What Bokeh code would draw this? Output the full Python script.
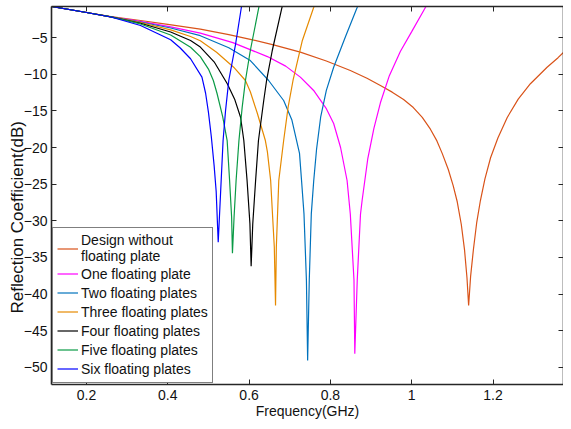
from bokeh.plotting import figure
from bokeh.models import Range1d, FixedTicker, LinearAxis, Legend, LegendItem, Title
from bokeh.embed import file_html
from bokeh.resources import INLINE

FONT = "Liberation Sans"
AXC = "#262626"

# ---- data (frequency in GHz, reflection coefficient in dB) ----
x_ticks = [0.2, 0.4, 0.6, 0.8, 1.0, 1.2]
x_tick_labels = ["0.2", "0.4", "0.6", "0.8", "1", "1.2"]
y_ticks = [-5, -10, -15, -20, -25, -30, -35, -40, -45, -50]

design_f = [0.114, 0.200, 0.260, 0.333, 0.400, 0.480, 0.550, 0.603, 0.660, 0.726, 0.790, 0.849,
            0.890, 0.923, 0.952, 0.980, 1.004, 1.026, 1.046, 1.062, 1.075, 1.090, 1.102, 1.112,
            1.122, 1.130, 1.136, 1.140, 1.145, 1.152, 1.160, 1.169, 1.180, 1.194, 1.212, 1.235,
            1.262, 1.292, 1.333, 1.360, 1.391]
design_db = [-0.77, -1.59, -2.15, -2.68, -3.20, -3.85, -4.60, -5.25, -6.00, -7.00, -8.20, -9.50,
             -10.55, -11.55, -12.45, -13.45, -14.55, -15.90, -17.50, -19.10, -20.80, -23.00, -25.20, -27.40,
             -30.50, -34.00, -37.80, -41.55, -37.50, -33.80, -30.20, -27.23, -24.30, -21.40, -18.70, -15.90,
             -13.40, -11.30, -9.05, -7.75, -6.09]

one_f = [0.114, 0.200, 0.260, 0.333, 0.407, 0.480, 0.560, 0.645, 0.690, 0.726, 0.760, 0.790,
         0.808, 0.825, 0.841, 0.849, 0.858, 0.860, 0.866, 0.874, 0.878, 0.892, 0.907, 0.923,
         0.945, 0.972, 1.000, 1.034, 1.040]
one_db = [-0.77, -1.59, -2.18, -2.80, -3.55, -4.40, -5.70, -7.60, -8.90, -10.40, -12.30, -14.70,
          -16.73, -20.00, -24.50, -29.10, -38.10, -48.13, -38.10, -29.10, -27.23, -21.50, -17.40, -13.90,
          -10.20, -6.90, -4.20, -0.87, -0.10]

two_f = [0.114, 0.200, 0.260, 0.333, 0.407, 0.480, 0.550, 0.603, 0.648, 0.685, 0.705, 0.724,
         0.729, 0.735, 0.741, 0.744, 0.748, 0.753, 0.759, 0.766, 0.776, 0.790, 0.808, 0.837,
         0.866, 0.870]
two_db = [-0.77, -1.59, -2.18, -2.88, -3.70, -4.75, -6.40, -8.14, -10.86, -13.59, -16.20, -20.80,
          -24.50, -29.05, -38.10, -49.05, -38.10, -29.05, -24.50, -20.20, -15.87, -12.20, -9.05, -4.90,
          -0.87, -0.20]

three_f = [0.114, 0.200, 0.260, 0.333, 0.407, 0.456, 0.480, 0.520, 0.562, 0.591, 0.603, 0.620,
           0.640, 0.645, 0.653, 0.662, 0.665, 0.667, 0.673, 0.685, 0.696, 0.708, 0.731, 0.759,
           0.763]
three_db = [-0.77, -1.59, -2.18, -2.95, -3.95, -4.86, -5.45, -7.00, -9.05, -10.86, -12.40, -15.30,
            -19.05, -20.60, -24.50, -33.60, -41.55, -33.60, -24.50, -19.05, -14.50, -10.86, -5.40, -0.87,
            -0.20]

four_f = [0.114, 0.200, 0.260, 0.333, 0.407, 0.456, 0.480, 0.515, 0.546, 0.565, 0.579, 0.587,
          0.595, 0.602, 0.605, 0.609, 0.616, 0.623, 0.636, 0.643, 0.657, 0.681, 0.685]
four_db = [-0.77, -1.59, -2.18, -3.05, -4.25, -5.41, -6.30, -8.40, -11.27, -13.50, -15.87, -19.05,
           -24.50, -30.40, -36.19, -30.40, -24.50, -19.05, -13.59, -10.86, -6.77, -0.87, -0.20]

five_f = [0.114, 0.200, 0.260, 0.333, 0.407, 0.456, 0.480, 0.500, 0.512, 0.521, 0.535, 0.546,
          0.552, 0.557, 0.559, 0.563, 0.568, 0.575, 0.583, 0.591, 0.603, 0.624, 0.627]
five_db = [-0.77, -1.59, -2.18, -3.15, -4.65, -6.32, -7.60, -9.30, -10.86, -12.60, -15.80, -19.05,
           -24.50, -29.50, -34.41, -29.50, -24.50, -19.05, -14.50, -10.86, -6.77, -0.87, -0.20]

six_f = [0.114, 0.200, 0.260, 0.333, 0.407, 0.430, 0.456, 0.484, 0.493, 0.500, 0.507, 0.514,
         0.519, 0.524, 0.530, 0.536, 0.542, 0.550, 0.567, 0.581, 0.584]
six_db = [-0.77, -1.59, -2.20, -3.36, -5.30, -6.40, -7.90, -10.40, -12.60, -15.20, -18.50, -22.50,
          -26.00, -32.91, -26.00, -19.05, -15.00, -10.86, -5.82, -0.87, -0.20]

series_names = ["Design without\nfloating plate", "One floating plate", "Two floating plates",
                "Three floating plates", "Four floating plates", "Five floating plates",
                "Six floating plates"]
series_f = [design_f, one_f, two_f, three_f, four_f, five_f, six_f]
series_db = [design_db, one_db, two_db, three_db, four_db, five_db, six_db]
series_colors = ["#D95319", "#FF00FF", "#0072BD", "#E68A00", "#000000", "#0A9A45", "#0000FF"]

# ---- figure ----
p = figure(width=563, height=421, output_backend="svg", toolbar_location=None,
           x_range=Range1d(0.1139, 1.3734), y_range=Range1d(-52.32, -0.77),
           min_border_left=51, min_border_right=0, min_border_top=6, min_border_bottom=37)
p.grid.visible = False
p.outline_line_color = None
p.background_fill_color = "white"
p.border_fill_color = "white"

def style_axis(ax, show_labels=True):
    ax.axis_line_color = AXC
    ax.axis_line_width = 1.6
    ax.major_tick_line_color = AXC
    ax.major_tick_in = 5
    ax.major_tick_out = 0
    ax.minor_tick_line_color = None
    if show_labels:
        ax.major_label_text_font = FONT
        ax.major_label_text_font_size = "14px"
        ax.major_label_text_color = "#111111"
    else:
        ax.major_label_text_color = None
        ax.major_label_standoff = 0

p.xaxis.ticker = FixedTicker(ticks=x_ticks)
p.xaxis.major_label_overrides = dict(zip(x_ticks, x_tick_labels))
p.yaxis.ticker = FixedTicker(ticks=y_ticks)
style_axis(p.xaxis[0])
style_axis(p.yaxis[0])
p.xaxis.major_label_standoff = 5
p.yaxis.major_label_standoff = 4
p.xaxis.axis_label = "Frequency(GHz)"
p.xaxis.axis_label_text_font = FONT
p.xaxis.axis_label_text_font_size = "14px"
p.xaxis.axis_label_text_font_style = "normal"
p.xaxis.axis_label_text_color = "#111111"
p.xaxis.axis_label_standoff = 0

top_ax = LinearAxis(ticker=FixedTicker(ticks=x_ticks))
style_axis(top_ax, show_labels=False)
p.add_layout(top_ax, "above")
right_ax = LinearAxis(ticker=FixedTicker(ticks=y_ticks))
style_axis(right_ax, show_labels=False)
p.add_layout(right_ax, "right")

renderers = []
for f, db, c in zip(series_f, series_db, series_colors):
    renderers.append(p.line(f, db, line_color=c, line_width=1.2))

items = [LegendItem(label=n, renderers=[r]) for n, r in zip(series_names, renderers)]
legend = Legend(items=items, location=(1, 1), margin=0, padding=4, spacing=0,
                label_text_font=FONT, label_text_font_size="14px", label_text_color="#111111",
                label_height=19, glyph_height=19, glyph_width=21, label_standoff=3,
                border_line_color="black", border_line_width=1,
                background_fill_color="white", background_fill_alpha=1.0)
p.add_layout(legend)

# y-axis title as a side title, anchored from the bottom of the frame
ytitle = Title(text="Reflection Coefficient(dB)", align="left", offset=71, standoff=-13,
               text_font=FONT, text_font_size="17px", text_font_style="normal",
               text_color="#111111")
p.add_layout(ytitle, "left")

open("out.html", "w").write(file_html(p, INLINE))
